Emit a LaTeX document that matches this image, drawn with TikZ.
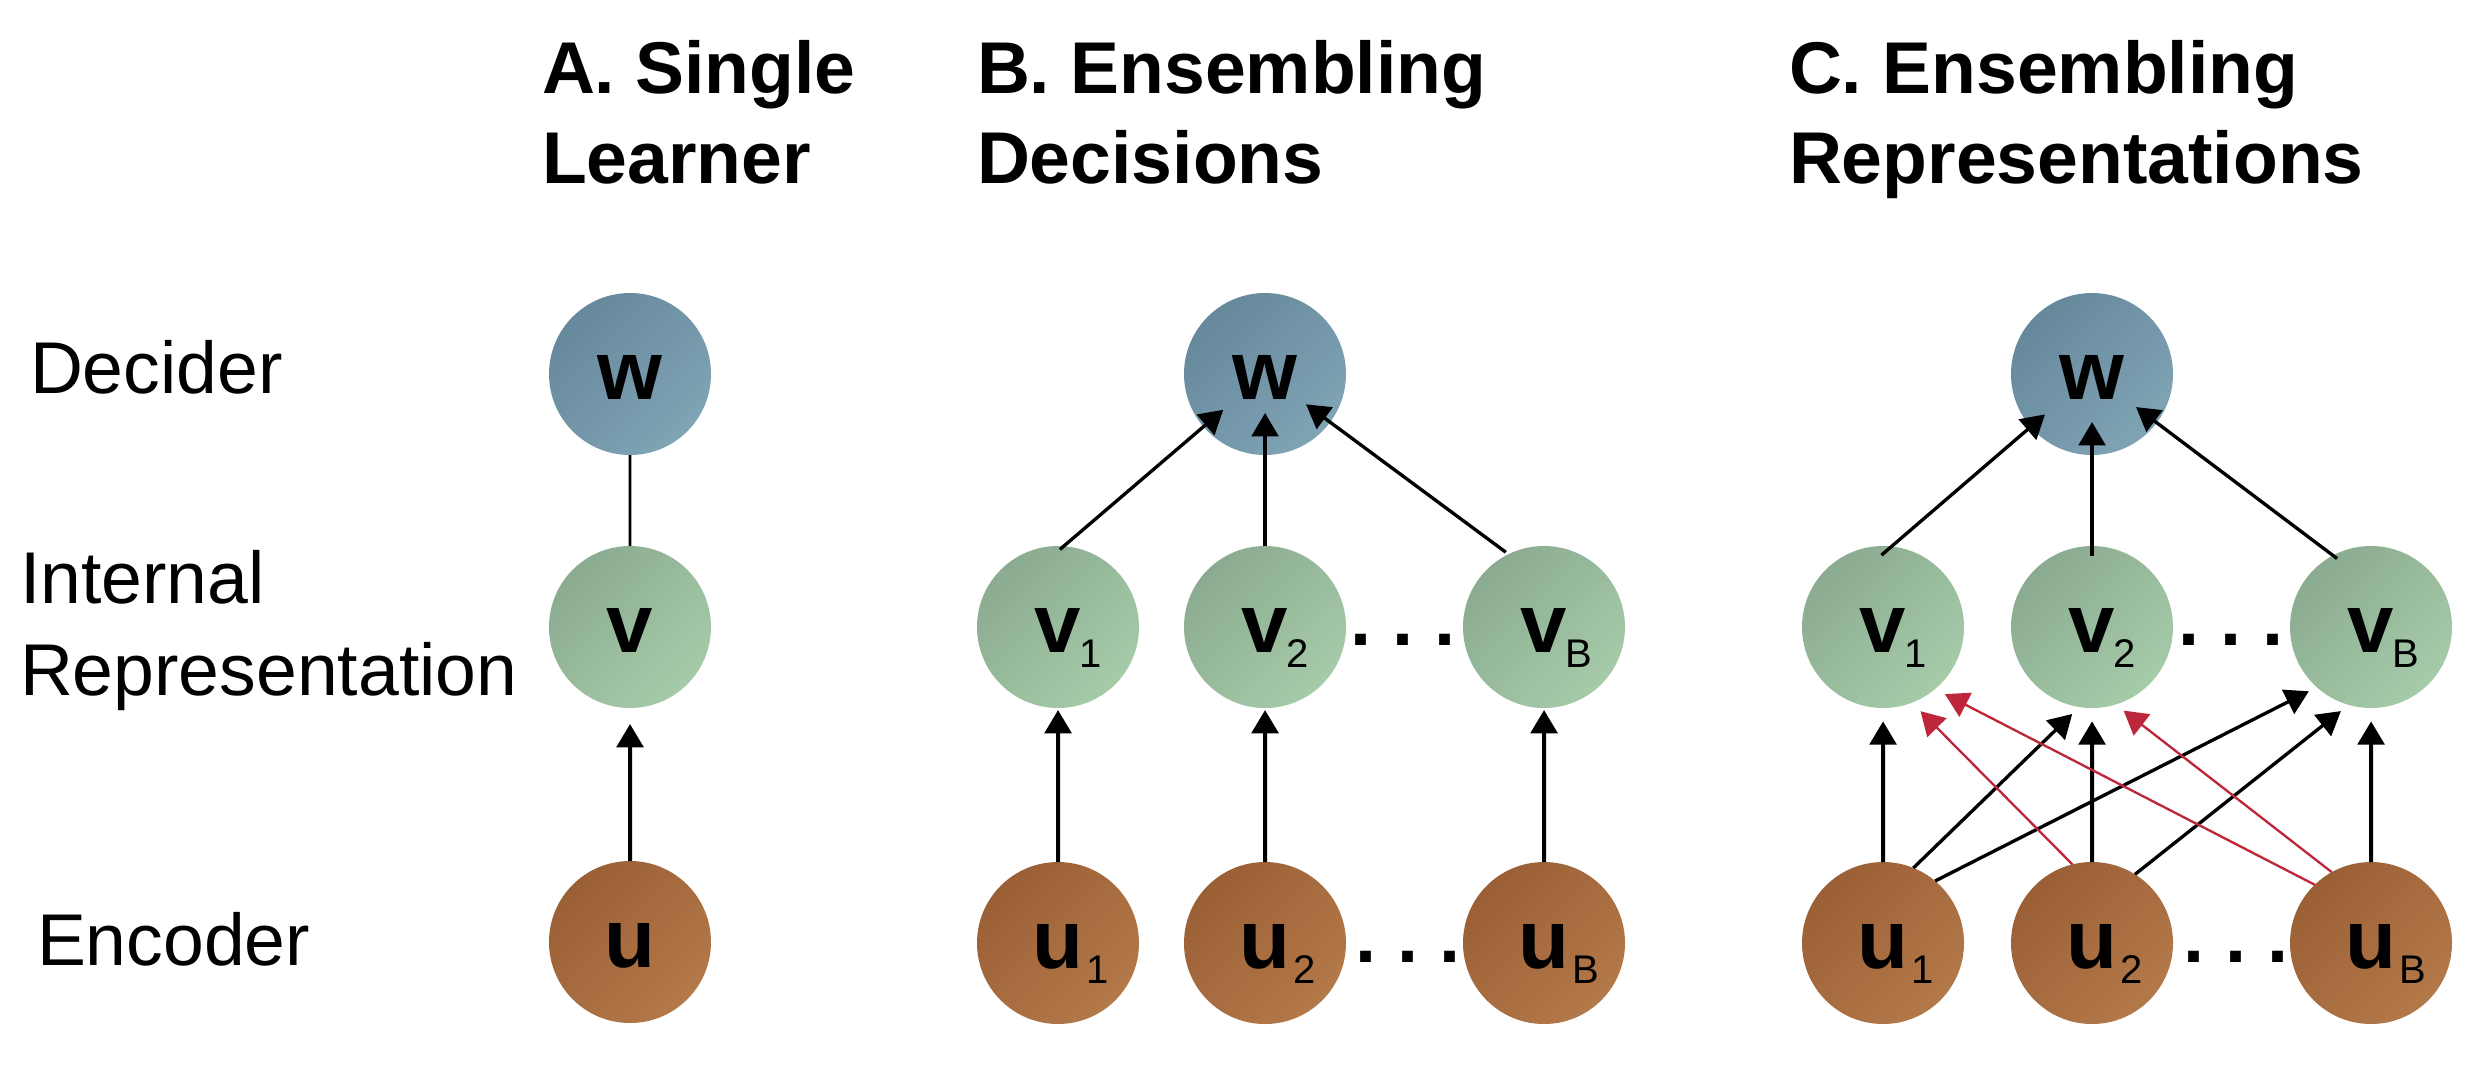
\documentclass[tikz,border=0pt]{standalone}
\usepackage{fontspec}
\setmainfont{Liberation Sans}
\usetikzlibrary{arrows.meta}
\definecolor{wdark}{RGB}{102, 136, 155}
\definecolor{wlight}{RGB}{127, 164, 180}
\definecolor{vdark}{RGB}{139, 171, 144}
\definecolor{vlight}{RGB}{166, 203, 169}
\definecolor{udark}{RGB}{154, 95, 53}
\definecolor{ulight}{RGB}{180, 121, 73}
\definecolor{cr}{RGB}{190, 38, 60}
\newcommand{\nsub}[2][1pt]{\rlap{\kern#1\smash{\raisebox{-4.5pt}{\fontsize{12}{12}\selectfont\mdseries #2}}}}

\begin{document}
\begin{tikzpicture}[scale=0.3,
every node/.style={inner sep=0pt, outer sep=0pt},
cell/.style={circle, minimum size=48.6pt, text height=15.5pt, text depth=0pt, font=\fontsize{25}{25}\selectfont\bfseries},
dec/.style={cell, top color=wdark, bottom color=wlight, shading angle=45},
rep/.style={cell, top color=vdark, bottom color=vlight, shading angle=45},
enc/.style={cell, top color=udark, bottom color=ulight, shading angle=45},
paneltitle/.style={font=\fontsize{22}{27}\selectfont\bfseries, align=left, anchor=north west},
rowlab/.style={font=\fontsize{22}{27.6}\selectfont, align=left},
gap/.style={font=\fontsize{22.7}{22.7}\selectfont\bfseries, anchor=base},
link/.style={line width=0.8pt, color=black},
rise/.style={line width=1.2pt, color=black, -{Triangle[length=7pt, width=8pt]}},
feed/.style={line width=1pt, color=black, -{Triangle[length=7pt, width=8pt]}},
cross/.style={line width=1pt, color=black, -{Triangle[length=7pt, width=8pt]}},
back/.style={line width=0.7pt, color=cr, -{Triangle[length=7pt, width=8pt]}}]
\useasboundingbox (0pt, 0pt) rectangle (2488pt, -1077pt);
\node (tA) [paneltitle] at (542pt, -40pt) {A. Single\\Learner};
\node (tB) [paneltitle] at (977pt, -40pt) {B. Ensembling\\Decisions};
\node (tC) [paneltitle] at (1789pt, -40pt) {C. Ensembling\\Representations};
\node (lw) [rowlab, anchor=base west] at (30pt, -393pt) {Decider};
\node (lv) [rowlab, anchor=north west] at (20pt, -550pt) {Internal\\Representation};
\node (lu) [rowlab, anchor=base west] at (37pt, -965pt) {Encoder};
\node (wA) [dec] at (630pt, -374pt) {w};
\node (vA) [rep] at (630pt, -627pt) {v};
\node (uA) [enc] at (630pt, -942pt) {u};
\node (wB) [dec] at (1265pt, -374pt) {w};
\node (vB1) [rep] at (1058pt, -627pt) {v\nsub[-0.5pt]{1}};
\node (vB2) [rep] at (1265pt, -627pt) {v\nsub[-0.5pt]{2}};
\node (vBB) [rep] at (1544pt, -627pt) {v\nsub[-0.5pt]{B}};
\node (uB1) [enc] at (1058pt, -943pt) {u\nsub{1}};
\node (uB2) [enc] at (1265pt, -943pt) {u\nsub{2}};
\node (uBB) [enc] at (1544pt, -943pt) {u\nsub{B}};
\node (gB1) [gap] at (1403pt, -645pt) {.\ .\ .};
\node (gB2) [gap] at (1408pt, -962pt) {.\ .\ .};
\node (wC) [dec] at (2092pt, -374pt) {w};
\node (vC1) [rep] at (1883pt, -627pt) {v\nsub[-0.5pt]{1}};
\node (vC2) [rep] at (2092pt, -627pt) {v\nsub[-0.5pt]{2}};
\node (vCB) [rep] at (2371pt, -627pt) {v\nsub[-0.5pt]{B}};
\node (uC1) [enc] at (1883pt, -943pt) {u\nsub{1}};
\node (uC2) [enc] at (2092pt, -943pt) {u\nsub{2}};
\node (uCB) [enc] at (2371pt, -943pt) {u\nsub{B}};
\node (gC1) [gap] at (2231pt, -645pt) {.\ .\ .};
\node (gC2) [gap] at (2236pt, -962pt) {.\ .\ .};
\draw [link] (wA) to (vA);
\draw [rise, shorten >=4.8pt] (uA) to (vA);
\draw [feed, shorten <=-1.5pt, shorten >=16.5pt] (vB1.86) to (wB.center);
\draw [feed, shorten >=11.7pt] (vB2.north) to (wB.center);
\draw [feed, shorten <=1pt, shorten >=15.3pt] (vBB.116) to (wB.center);
\draw [rise, shorten >=0.6pt] (uB1) to (vB1);
\draw [rise, shorten >=0.6pt] (uB2) to (vB2);
\draw [rise, shorten >=0.6pt] (uBB) to (vBB);
\draw [feed, shorten <=-4pt, shorten >=18.6pt] (vC1.84) to (wC.center);
\draw [feed, shorten <=-3pt, shorten >=14.4pt] (vC2.north) to (wC.center);
\draw [feed, shorten <=-1.5pt, shorten >=16.5pt] (vCB.118) to (wC.center);
\draw [rise, shorten >=4pt] (uC1) to (vC1);
\draw [rise, shorten >=4pt] (uC2) to (vC2);
\draw [rise, shorten >=4pt] (uCB) to (vCB);
\draw [cross, shorten >=3pt] (uC1.68) to (vC2.261);
\draw [cross, shorten >=2.7pt] (uC1.50) to (vCB.228);
\draw [cross, shorten >=3pt] (uC2.58) to (vCB.254);
\draw [back, shorten >=3.6pt] (uC2.104) to (vC1.291);
\draw [back, shorten >=3.3pt] (uCB.134) to (vC1.310);
\draw [back, shorten >=3pt] (uCB.119) to (vC2.287);
\end{tikzpicture}
\end{document}
